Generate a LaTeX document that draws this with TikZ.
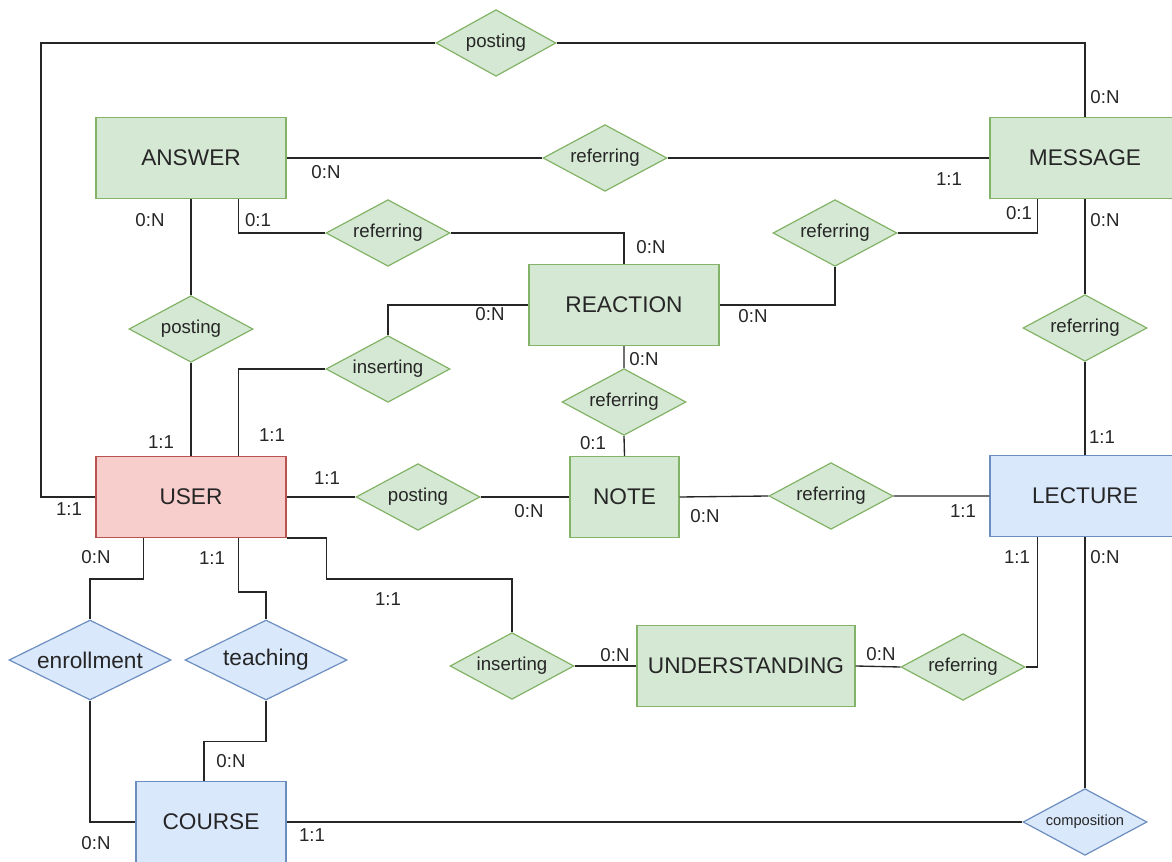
\documentclass[tikz,border=0pt]{standalone}
\usepackage{fontspec}
\setmainfont{Liberation Sans}
\usetikzlibrary{shapes.geometric,calc}

\definecolor{greenfill}{HTML}{D5E8D4}
\definecolor{greenline}{HTML}{82B366}
\definecolor{bluefill}{HTML}{DAE8FC}
\definecolor{blueline}{HTML}{6C8EBF}
\definecolor{redfill}{HTML}{F8CECC}
\definecolor{redline}{HTML}{B85450}

\tikzset{
  entity/.style={rectangle, draw=greenline, fill=greenfill, line width=0.9pt,
    minimum width=142.5pt, minimum height=60.75pt, inner sep=0pt,
    text=black!85, font=\fontsize{17}{20}\selectfont},
  relship/.style={diamond, shape aspect=2, draw=greenline, fill=greenfill, line width=0.9pt,
    minimum width=93pt, minimum height=50pt, inner sep=0pt,
    text=black!85, font=\fontsize{14}{16}\selectfont},
  bluepart/.style={draw=blueline, fill=bluefill},
  bigrel/.style={minimum width=121.5pt, minimum height=60pt, font=\fontsize{17}{20}\selectfont},
  card/.style={inner sep=0pt, text=black!85, font=\fontsize{14}{16}\selectfont},
  link/.style={draw=black!85, line width=1pt},
}

\begin{document}
\begin{tikzpicture}[x=0.75pt, y=-0.75pt]
    \useasboundingbox (0,0) rectangle (1172,862);

    % entities
    \node[entity] (answer) at (191,158) {ANSWER};
    \node[entity] (message) at (1085,158) {MESSAGE};
    \node[entity] (reaction) at (624,305) {REACTION};
    \node[entity, draw=redline, fill=redfill] (user) at (191,497) {USER};
    \node[entity, minimum width=81.75pt] (note) at (624.5,497) {NOTE};
    \node[entity, bluepart] (lecture) at (1085,496) {LECTURE};
    \node[entity, minimum width=163.5pt] (understanding) at (746,666) {UNDERSTANDING};
    \node[entity, bluepart, minimum width=112.5pt] (course) at (211,822) {COURSE};

    % relationships
    \node[relship, minimum width=90pt] (post1) at (496,43) {posting};
    \node[relship] (ref1) at (605,158) {referring};
    \node[relship] (ref2) at (388,233) {referring};
    \node[relship] (ref3) at (835,233) {referring};
    \node[relship] (post2) at (191,329) {posting};
    \node[relship] (ref4) at (1085,328) {referring};
    \node[relship] (ins1) at (388,369) {inserting};
    \node[relship] (ref5) at (624,402) {referring};
    \node[relship] (post3) at (418,497) {posting};
    \node[relship] (ref6) at (831,496) {referring};
    \node[relship, bluepart, bigrel] (enroll) at (90,660) {enrollment};
    \node[relship, bluepart, bigrel] (teach) at (266,660) {teaching};
    \node[relship] (ins2) at (512,666) {inserting};
    \node[relship] (ref7) at (963,667) {referring};
    \node[relship, bluepart, font=\fontsize{11}{13}\selectfont] (comp) at (1085,822) {composition};

    % connectors
    \draw[link] (user.west) -| (41,43) -- (post1.west);
    \draw[link] (post1.east) -| (message.north);
    \draw[link] (answer.east) -- (ref1.west) (ref1.east) -- (message.west);
    \draw[link] ($(answer.south)!.5!(answer.south east)$) |- (ref2.west);
    \draw[link] (ref2.east) -| (reaction.north);
    \draw[link] ($(message.south)!.5!(message.south west)$) |- (ref3.east);
    \draw[link] (ref3.south) |- (reaction.east);
    \draw[link] (message.south) -- (ref4.north) (ref4.south) -- (lecture.north);
    \draw[link] (answer.south) -- (post2.north) (post2.south) -- (user.north);
    \draw[link] ($(user.north)!.5!(user.north east)$) |- (ins1.west);
    \draw[link] (ins1.north) |- (reaction.west);
    \draw[link] (reaction.south) -- (ref5.north) (ref5.south) -- (note.north);
    \draw[link] (user.east) -- (post3.west) (post3.east) -- (note.west);
    \draw[link] (note.east) -- (ref6.west) (ref6.east) -- (lecture.west);
    \draw[link] ($(lecture.south)!.5!(lecture.south west)$) |- (ref7.east);
    \draw[link] (understanding.east) -- (ref7.west);
    \draw[link] (lecture.south) -- (comp.north);
    \draw[link] (user.south east) -- ++(40,0) -- ++(0,41) -| (ins2.north);
    \draw[link] (ins2.east) -- (understanding.west);
    \draw[link] ($(user.south)!.5!(user.south west)$) -- ++(0,41) -| (enroll.north);
    \draw[link] ($(user.south)!.5!(user.south east)$) -- ++(0,54) -| (teach.north);
    \draw[link] (enroll.south) |- (course.west);
    \draw[link] (teach.south) -- ++(0,41) -| ($(course.north)+(-7,0)$);
    \draw[link] (course.east) -- (comp.west);

    % cardinalities
    \foreach \px/\py/\txt [count=\i] in {
        69/509/1:1, 1105/97/0:N, 326/172/0:N, 949/179/1:1,
        258/220/0:1, 651/247/0:N, 1019/213/0:1, 753/316/0:N,
        1105/220/0:N, 1102/437/1:1, 150/220/0:N, 161/442/1:1,
        272/435/1:1, 490/314/0:N, 644/359/0:N, 593/443/0:1,
        327/478/1:1, 529/511/0:N, 705/516/0:N, 963/511/1:1,
        1017/557/1:1, 1105/557/0:N, 881/654/0:N, 615/655/0:N,
        388/599/1:1, 96/557/0:N, 212/558/1:1, 96/843/0:N,
        231/761/0:N, 312/835/1:1}
    \node[card] (card\i) at (\px,\py) {\txt};
\end{tikzpicture}
\end{document}
